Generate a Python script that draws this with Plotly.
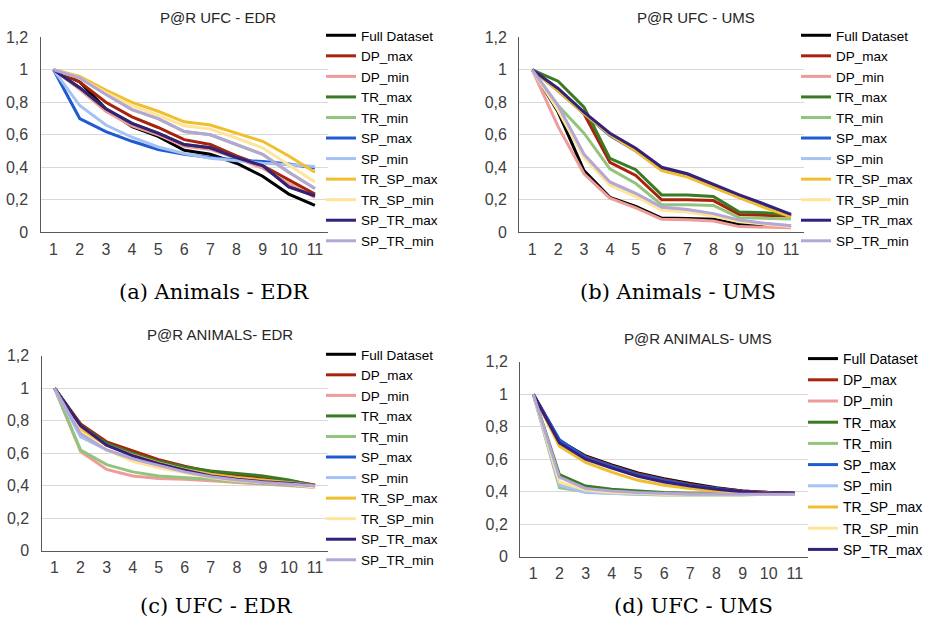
import plotly.graph_objects as go

# ---------------- data ----------------
x_vals = [1, 2, 3, 4, 5, 6, 7, 8, 9, 10, 11]
x_ticks = ["1", "2", "3", "4", "5", "6", "7", "8", "9", "10", "11"]
y_tickvals = [0, 0.2, 0.4, 0.6, 0.8, 1.0, 1.2]
y_ticktext = ["0", "0,2", "0,4", "0,6", "0,8", "1", "1,2"]

series_names = ["Full Dataset", "DP_max", "DP_min", "TR_max", "TR_min", "SP_max",
                "SP_min", "TR_SP_max", "TR_SP_min", "SP_TR_max", "SP_TR_min"]
series_colors = ["#000000", "#A8220C", "#EE9C9A", "#3A7A22", "#93C47D", "#1F5AD3",
                 "#A4C2F4", "#F1BE2F", "#FFE599", "#35207A", "#B4A7D6"]

panel_titles = ["P@R UFC - EDR", "P@R UFC - UMS", "P@R ANIMALS- EDR", "P@R ANIMALS- UMS"]
captions = ["(a) Animals - EDR", "(b) Animals - UMS", "(c) UFC - EDR", "(d) UFC - UMS"]

# Panel (a): P@R UFC - EDR  (rows follow series_names)
ufc_edr = [
    [1, 0.925, 0.76, 0.65, 0.59, 0.505, 0.48, 0.425, 0.345, 0.235, 0.165],
    [1, 0.925, 0.80, 0.71, 0.645, 0.57, 0.54, 0.47, 0.41, 0.32, 0.235],
    [1, 0.88, 0.745, 0.655, 0.60, 0.53, 0.51, 0.455, 0.395, 0.30, 0.215],
    [1, 0.89, 0.76, 0.67, 0.61, 0.54, 0.52, 0.46, 0.41, 0.28, 0.225],
    [1, 0.95, 0.85, 0.755, 0.70, 0.62, 0.60, 0.54, 0.48, 0.37, 0.27],
    [1, 0.70, 0.62, 0.56, 0.51, 0.48, 0.46, 0.445, 0.435, 0.42, 0.395],
    [1, 0.78, 0.66, 0.585, 0.525, 0.485, 0.455, 0.44, 0.425, 0.415, 0.405],
    [1, 0.96, 0.875, 0.80, 0.745, 0.68, 0.66, 0.61, 0.56, 0.47, 0.37],
    [1, 0.95, 0.86, 0.78, 0.72, 0.655, 0.635, 0.58, 0.52, 0.415, 0.31],
    [1, 0.89, 0.76, 0.67, 0.61, 0.54, 0.52, 0.46, 0.41, 0.28, 0.225],
    [1, 0.95, 0.85, 0.755, 0.70, 0.62, 0.60, 0.54, 0.48, 0.37, 0.27],
]

# Panel (b): P@R UFC - UMS
ufc_ums = [
    [1, 0.74, 0.38, 0.215, 0.16, 0.088, 0.085, 0.08, 0.05, 0.04, 0.03],
    [1, 0.88, 0.73, 0.43, 0.35, 0.20, 0.20, 0.195, 0.11, 0.105, 0.10],
    [1, 0.65, 0.36, 0.21, 0.15, 0.08, 0.078, 0.07, 0.035, 0.03, 0.028],
    [1, 0.93, 0.77, 0.455, 0.385, 0.23, 0.23, 0.22, 0.125, 0.12, 0.105],
    [1, 0.78, 0.61, 0.39, 0.30, 0.17, 0.17, 0.165, 0.09, 0.085, 0.082],
    [1, 0.87, 0.73, 0.595, 0.50, 0.385, 0.345, 0.28, 0.215, 0.155, 0.10],
    [1, 0.77, 0.475, 0.305, 0.235, 0.15, 0.138, 0.112, 0.072, 0.052, 0.04],
    [1, 0.87, 0.73, 0.60, 0.50, 0.38, 0.34, 0.275, 0.21, 0.15, 0.095],
    [1, 0.75, 0.46, 0.29, 0.22, 0.135, 0.125, 0.10, 0.065, 0.05, 0.035],
    [1, 0.885, 0.74, 0.61, 0.517, 0.40, 0.36, 0.295, 0.23, 0.172, 0.11],
    [1, 0.78, 0.48, 0.31, 0.24, 0.155, 0.14, 0.115, 0.075, 0.055, 0.04],
]

# Panel (c): P@R ANIMALS- EDR
animals_edr = [
    [1, 0.77, 0.655, 0.595, 0.545, 0.505, 0.475, 0.455, 0.44, 0.425, 0.40],
    [1, 0.78, 0.67, 0.615, 0.56, 0.52, 0.485, 0.465, 0.445, 0.43, 0.405],
    [1, 0.61, 0.50, 0.46, 0.445, 0.44, 0.43, 0.42, 0.41, 0.40, 0.39],
    [1, 0.77, 0.66, 0.60, 0.55, 0.515, 0.49, 0.475, 0.46, 0.435, 0.40],
    [1, 0.62, 0.53, 0.485, 0.46, 0.45, 0.44, 0.425, 0.415, 0.405, 0.39],
    [1, 0.76, 0.65, 0.59, 0.54, 0.50, 0.47, 0.45, 0.435, 0.42, 0.40],
    [1, 0.70, 0.62, 0.57, 0.53, 0.49, 0.46, 0.44, 0.43, 0.415, 0.395],
    [1, 0.75, 0.65, 0.59, 0.54, 0.50, 0.47, 0.45, 0.435, 0.42, 0.40],
    [1, 0.73, 0.62, 0.55, 0.51, 0.48, 0.45, 0.43, 0.42, 0.41, 0.39],
    [1, 0.77, 0.65, 0.585, 0.535, 0.495, 0.46, 0.44, 0.425, 0.415, 0.40],
    [1, 0.72, 0.62, 0.565, 0.525, 0.485, 0.455, 0.435, 0.42, 0.41, 0.40],
]

# Panel (d): P@R ANIMALS- UMS
animals_ums = [
    [1, 0.715, 0.62, 0.565, 0.515, 0.48, 0.45, 0.425, 0.405, 0.395, 0.39],
    [1, 0.71, 0.615, 0.56, 0.51, 0.475, 0.445, 0.42, 0.405, 0.395, 0.39],
    [1, 0.44, 0.40, 0.395, 0.39, 0.385, 0.385, 0.385, 0.385, 0.385, 0.385],
    [1, 0.505, 0.435, 0.415, 0.405, 0.395, 0.39, 0.39, 0.385, 0.385, 0.385],
    [1, 0.425, 0.40, 0.39, 0.385, 0.38, 0.38, 0.38, 0.38, 0.385, 0.385],
    [1, 0.72, 0.61, 0.555, 0.505, 0.47, 0.44, 0.42, 0.40, 0.39, 0.39],
    [1, 0.44, 0.395, 0.39, 0.385, 0.385, 0.385, 0.385, 0.385, 0.385, 0.385],
    [1, 0.68, 0.58, 0.52, 0.47, 0.44, 0.42, 0.405, 0.395, 0.39, 0.385],
    [1, 0.46, 0.41, 0.395, 0.39, 0.385, 0.385, 0.385, 0.385, 0.385, 0.385],
    [1, 0.70, 0.60, 0.545, 0.495, 0.46, 0.435, 0.415, 0.40, 0.39, 0.39],
    [1, 0.49, 0.42, 0.405, 0.395, 0.39, 0.385, 0.385, 0.385, 0.385, 0.385],
]

panels = [ufc_edr, ufc_ums, animals_edr, animals_ums]
legend_counts = [11, 11, 11, 10]

# ---------------- layout helpers ----------------
W, H = 936, 623


def px_x(v):
    return v / W


def px_y(v):
    return 1 - v / H


# plot boxes in pixels: (left, right, top, bottom)
boxes = [(40.5, 328, 37.3, 232.3), (519.3, 804, 37.3, 232.3),
         (41.5, 328, 355.7, 550.7), (520.2, 808, 361.7, 556.7)]
title_pos = [(218, 17), (696, 17), (220, 334), (698, 339)]
caption_pos = [(214, 292), (678, 292), (216, 606), (693, 606)]
legend_pos = [(321, 20), (796, 20), (321, 339), (803, 343)]
legend_font = [13.5, 13.5, 13.5, 14]

fig = go.Figure()
axis_font = dict(family="Liberation Sans, Arial, sans-serif", size=16, color="#404040")

for p, data in enumerate(panels):
    sfx = "" if p == 0 else str(p + 1)
    leg = "legend" if p == 0 else "legend" + str(p + 1)
    for i, name in enumerate(series_names):
        fig.add_trace(go.Scatter(
            x=x_vals, y=data[i], mode="lines", name=name,
            line=dict(color=series_colors[i], width=3),
            xaxis="x" + sfx, yaxis="y" + sfx, legend=leg,
            showlegend=i < legend_counts[p],
        ))
    l, r, t, b = boxes[p]
    fig.layout["xaxis" + sfx] = dict(
        domain=[px_x(l), px_x(r)], anchor="y" + sfx, range=[0.5, 11.5],
        tickvals=x_vals, ticktext=x_ticks, showgrid=False, zeroline=False,
        showline=True, linecolor="#595959", linewidth=1.3, ticks="",
        tickfont=axis_font, ticklabelstandoff=2, fixedrange=True,
    )
    fig.layout["yaxis" + sfx] = dict(
        domain=[px_y(b), px_y(t)], anchor="x" + sfx, range=[0, 1.2],
        tickvals=y_tickvals, ticktext=y_ticktext, showgrid=True,
        gridcolor="#d9d9d9", gridwidth=1.3, zeroline=False,
        showline=True, linecolor="#595959", linewidth=1.3, ticks="",
        tickfont=axis_font, ticklabelstandoff=8, fixedrange=True,
    )
    lx, ly = legend_pos[p]
    fig.layout[leg] = dict(
        x=px_x(lx), y=px_y(ly), xanchor="left", yanchor="top",
        bgcolor="rgba(0,0,0,0)", borderwidth=0,
        font=dict(family="Liberation Sans, Arial, sans-serif", size=legend_font[p], color="#000000"),
        tracegroupgap=0, itemclick=False, itemdoubleclick=False,
    )
    tx, ty = title_pos[p]
    fig.add_annotation(x=px_x(tx), y=px_y(ty), xref="paper", yref="paper",
                       text=panel_titles[p], showarrow=False, xanchor="center", yanchor="middle",
                       font=dict(family="Liberation Sans, Arial, sans-serif", size=15, color="#262626"))
    cx, cy = caption_pos[p]
    fig.add_annotation(x=px_x(cx), y=px_y(cy), xref="paper", yref="paper",
                       text=captions[p], showarrow=False, xanchor="center", yanchor="middle",
                       font=dict(family="DejaVu Serif, serif", size=21, color="#000000"))

fig.update_layout(
    width=W, height=H, margin=dict(l=0, r=0, t=0, b=0, autoexpand=False),
    paper_bgcolor="white", plot_bgcolor="white",
)

fig.write_html("out.html", config={"displayModeBar": False})
